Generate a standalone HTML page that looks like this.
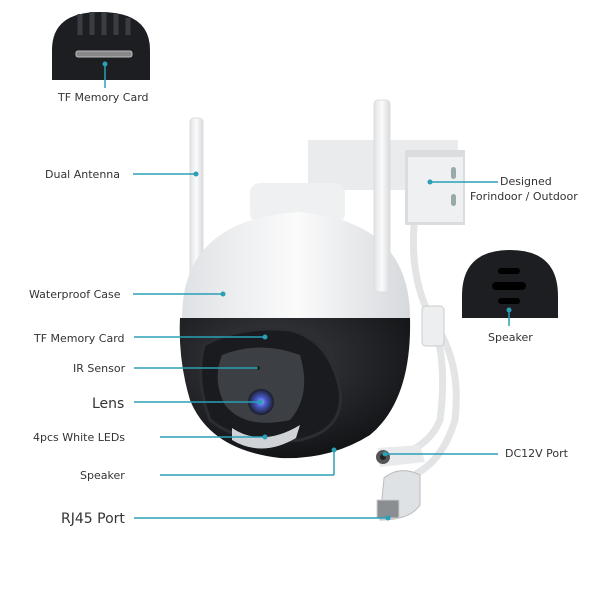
<!DOCTYPE html>
<html><head><style>
html,body{margin:0;padding:0;background:#fff;width:600px;height:600px;overflow:hidden}
svg text{font-family:"DejaVu Sans","Liberation Sans",sans-serif;fill:#333}
</style></head><body>
<svg width="600" height="600" viewBox="0 0 600 600" xmlns="http://www.w3.org/2000/svg">
<defs>
<linearGradient id="wd" x1="0" y1="0" x2="1" y2="0"><stop offset="0" stop-color="#dfe2e5"/><stop offset="0.5" stop-color="#fbfbfb"/><stop offset="1" stop-color="#d6d9dd"/></linearGradient>
<radialGradient id="bk" cx="0.4" cy="0.3" r="0.8"><stop offset="0" stop-color="#3a3d42"/><stop offset="1" stop-color="#0d0e10"/></radialGradient>
<radialGradient id="ln" cx="0.5" cy="0.5" r="0.5"><stop offset="0" stop-color="#9ab8ff"/><stop offset="0.35" stop-color="#4a5ed0"/><stop offset="1" stop-color="#1a1c28"/></radialGradient>
</defs>
<!-- TF inset -->
<path d="M52 80 L52 50 Q52 12 100 12 Q150 12 150 50 L150 80 Z" fill="#1c1e21"/>
<g stroke="#3a3d42" stroke-width="5"><line x1="80" y1="14" x2="80" y2="35"/><line x1="92" y1="12" x2="92" y2="35"/><line x1="104" y1="12" x2="104" y2="35"/><line x1="116" y1="14" x2="116" y2="35"/><line x1="128" y1="18" x2="128" y2="35"/></g>
<rect x="76" y="51" width="56" height="6" rx="2" fill="#888" stroke="#bbb"/>
<line x1="105" y1="64" x2="105" y2="88" stroke="#2a9fb5" stroke-width="1.5"/><circle cx="105" cy="64" r="2.5" fill="#2a9fb5"/>
<text x="58" y="101" font-size="11">TF Memory Card</text>
<!-- bracket -->
<rect x="308" y="140" width="150" height="50" fill="#e9ebed"/>
<path d="M405 150 L465 150 L465 225 L405 225 Z" fill="#dadde0"/>
<rect x="408" y="157" width="55" height="65" fill="#eef0f1"/>
<rect x="451" y="167" width="5" height="12" rx="2.5" fill="#9aa"/><rect x="451" y="194" width="5" height="12" rx="2.5" fill="#9aa"/>
<!-- cables -->
<path d="M414 225 Q410 280 432 320 Q448 360 440 420 Q430 445 400 455" stroke="#e2e4e6" stroke-width="7" fill="none"/>
<path d="M432 320 Q462 360 455 420 Q440 470 400 480" stroke="#e2e4e6" stroke-width="7" fill="none"/>
<rect x="422" y="306" width="22" height="40" rx="4" fill="#eceeef" stroke="#ccc"/>
<!-- antennas -->
<rect x="190" y="118" width="13" height="165" rx="4" fill="url(#wd)" stroke="#ddd"/>
<!-- dome -->
<rect x="250" y="183" width="95" height="40" rx="10" fill="#eef0f1"/>
<path d="M182 318 Q182 220 297 212 Q410 220 410 318 Z" fill="url(#wd)"/>
<path d="M180 318 L410 318 Q412 400 370 435 Q330 460 280 458 Q210 450 190 400 Q178 360 180 318 Z" fill="url(#bk)"/>
<path d="M204 345 Q240 325 290 330 Q330 340 340 390 Q345 430 300 440 Q240 445 210 420 Q195 380 204 345 Z" fill="#1a1b1e" stroke="#2b2d31" stroke-width="3"/>
<path d="M222 355 Q260 340 300 355 Q312 395 290 420 Q245 430 225 405 Q212 380 222 355 Z" fill="#3c3f44"/>
<circle cx="261" cy="402" r="13" fill="url(#ln)"/>
<path d="M232 428 Q262 448 300 425 L296 438 Q262 458 232 440 Z" fill="#cfd3d8"/>
<circle cx="258" cy="368" r="1.5" fill="#000"/>
<rect x="374" y="100" width="16" height="192" rx="4" fill="url(#wd)" stroke="#ddd"/>
<!-- ports -->
<path d="M378 448 L420 445 L425 462 L380 467 Z" fill="#e8eaec"/>
<circle cx="383" cy="457" r="7" fill="#555"/><circle cx="383" cy="457" r="3" fill="#222"/>
<path d="M384 478 Q400 465 420 475 L420 505 Q410 520 380 520 Z" fill="#dfe2e5" stroke="#bbb"/>
<rect x="377" y="500" width="22" height="18" fill="#8a8e92" stroke="#ccc"/>
<!-- speaker inset -->
<path d="M462 318 L462 296 Q462 250 510 250 Q558 250 558 296 L558 318 Z" fill="#1c1e21"/>
<rect x="498" y="268" width="22" height="6" rx="3" fill="#000"/><rect x="492" y="282" width="34" height="8" rx="4" fill="#000"/><rect x="498" y="298" width="22" height="6" rx="3" fill="#000"/>
<line x1="509" y1="310" x2="509" y2="326" stroke="#2a9fb5" stroke-width="1.5"/><circle cx="509" cy="310" r="2.5" fill="#2a9fb5"/>
<text x="488" y="341" font-size="11">Speaker</text>
<!-- labels -->
<g stroke="#2a9fb5" stroke-width="1.5" fill="none">
<line x1="133" y1="174" x2="196" y2="174"/>
<line x1="133" y1="294" x2="223" y2="294"/>
<line x1="134" y1="337" x2="265" y2="337"/>
<line x1="134" y1="368" x2="258" y2="368"/>
<line x1="134" y1="402" x2="260" y2="402"/>
<line x1="160" y1="437" x2="265" y2="437"/>
<line x1="160" y1="475" x2="334" y2="475"/><line x1="334" y1="475" x2="334" y2="450"/>
<line x1="134" y1="518" x2="388" y2="518"/>
<line x1="430" y1="182" x2="498" y2="182"/>
<line x1="385" y1="454" x2="498" y2="454"/>
</g>
<g fill="#2a9fb5">
<circle cx="196" cy="174" r="2.5"/><circle cx="223" cy="294" r="2.5"/><circle cx="265" cy="337" r="2.5"/>
<circle cx="260" cy="402" r="2.5"/><circle cx="265" cy="437" r="2.5"/><circle cx="334" cy="450" r="2.5"/>
<circle cx="388" cy="518" r="2.5"/><circle cx="430" cy="182" r="2.5"/><circle cx="385" cy="454" r="2.5"/>
</g>
<text x="45" y="178" font-size="11">Dual Antenna</text>
<text x="29" y="298" font-size="11">Waterproof Case</text>
<text x="34" y="342" font-size="11">TF Memory Card</text>
<text x="73" y="372" font-size="11">IR Sensor</text>
<text x="92" y="408" font-size="14">Lens</text>
<text x="33" y="441" font-size="11">4pcs White LEDs</text>
<text x="80" y="479" font-size="11">Speaker</text>
<text x="61" y="523" font-size="14">RJ45 Port</text>
<text x="500" y="185" font-size="11">Designed</text>
<text x="470" y="200" font-size="11">Forindoor / Outdoor</text>
<text x="505" y="457" font-size="11">DC12V Port</text>
</svg>
</body></html>
